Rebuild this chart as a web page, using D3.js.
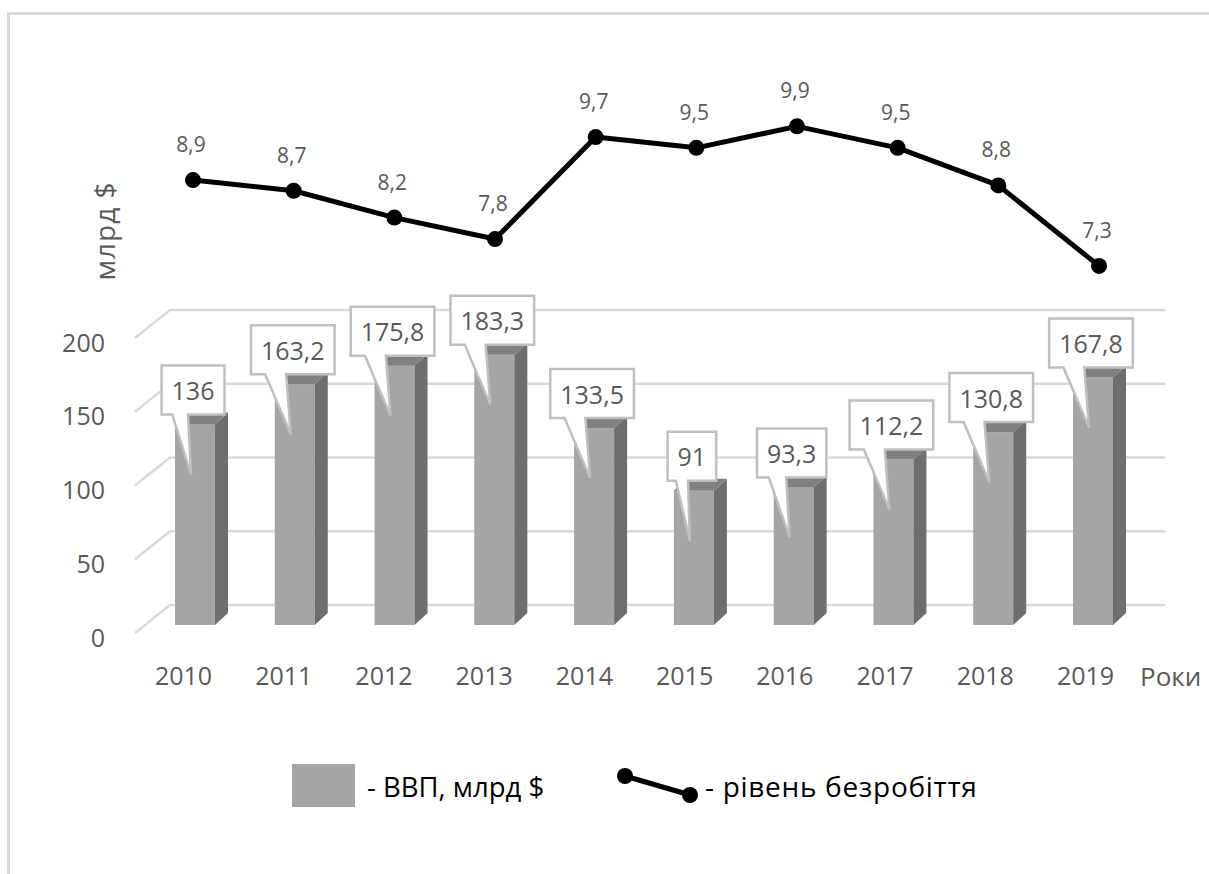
<!DOCTYPE html>
<html>
<head>
<meta charset="utf-8">
<script src="https://d3js.org/d3.v7.min.js"></script>
<style>
  body { margin: 0; background: #fff; }
  svg { display: block; font-family: "Open Sans", sans-serif; }
</style>
</head>
<body>
<div id="chart"></div>
<script>
// chart data
const years = ["2010", "2011", "2012", "2013", "2014", "2015", "2016", "2017", "2018", "2019"];
const gdp = [136, 163.2, 175.8, 183.3, 133.5, 91, 93.3, 112.2, 130.8, 167.8];
const unemployment = [8.9, 8.7, 8.2, 7.8, 9.7, 9.5, 9.9, 9.5, 8.8, 7.3];
const yTicks = [0, 50, 100, 150, 200];

const W = 1209, H = 874;
const textGray = "#595959";
const gridColor = "#d9d9d9";
const comma = v => String(v).replace(".", ",");

const svg = d3.select("#chart").append("svg")
  .attr("width", W)
  .attr("height", H);

// outer frame (only top and left edges are visible)
svg.append("path")
  .attr("d", "M8.5," + (H + 10) + " V13.5 H" + (W + 10))
  .attr("fill", "none")
  .attr("stroke", gridColor)
  .attr("stroke-width", 3);

// scales
const x = d3.scalePoint().domain(years).range([190, 1088]);   // bar centres (perspective plane)
const xa = d3.scalePoint().domain(years).range([183, 1085]);  // category labels
const y = d3.scaleLinear().domain([0, 200]).range([625, 330]); // bar front plane
const xl = d3.scalePoint().domain(years).range([193, 1099]);  // line series
const yl = d3.scaleLinear().domain([7, 10]).range([282, 121]);

const backDy = -20, frontDy = 8;   // gridline back / front planes relative to bar plane
const depthX = 13, depthY = -12;   // bar depth

// gridlines (3D floor/back wall style)
const grid = svg.append("g")
  .attr("fill", "none")
  .attr("stroke", gridColor)
  .attr("stroke-width", 2.5);
grid.selectAll("path")
  .data(yTicks)
  .enter().append("path")
  .attr("d", d => "M135," + (y(d) + frontDy) + " L170," + (y(d) + backDy) + " H1165");

// y axis
const yAxis = svg.append("g")
  .attr("transform", "translate(105,13)")
  .call(d3.axisLeft(y).tickValues(yTicks).tickSize(0).tickPadding(0));
yAxis.select(".domain").remove();
yAxis.selectAll("text")
  .attr("fill", textGray)
  .attr("font-size", 25)
  .attr("font-family", "Open Sans");

// x axis
const xAxis = svg.append("g")
  .attr("transform", "translate(0,667)")
  .call(d3.axisBottom(xa).tickSize(0).tickPadding(0));
xAxis.select(".domain").remove();
xAxis.selectAll("text")
  .attr("fill", textGray)
  .attr("font-size", 25)
  .attr("font-family", "Open Sans");

// bars
const bars = svg.append("g").selectAll("g")
  .data(gdp)
  .enter().append("g");

bars.append("rect")
  .attr("x", (d, i) => x(years[i]) - 15)
  .attr("y", d => y(d))
  .attr("width", 40)
  .attr("height", d => y(0) - y(d))
  .attr("fill", "#a5a5a5");

bars.append("path")
  .attr("fill", "#6e6e6e")
  .attr("d", (d, i) => {
    const r = x(years[i]) + 25;
    return "M" + r + "," + y(d) + " L" + (r + depthX) + "," + (y(d) + depthY) +
      " V" + (y(0) + depthY) + " L" + r + "," + y(0) + "Z";
  });

bars.append("path")
  .attr("fill", "#808080")
  .attr("d", (d, i) => {
    const l = x(years[i]) - 15, r = l + 40;
    return "M" + l + "," + y(d) + " L" + (l + depthX) + "," + (y(d) + depthY) +
      " H" + (r + depthX) + " L" + r + "," + y(d) + "Z";
  });

// callout labels on bars
bars.each(function(d, i) {
  const g = d3.select(this);
  const cx = x(years[i]) + 3;
  const top = y(d);
  const boxBottom = top - 10, boxTop = boxBottom - 49;
  const path = g.append("path");
  const txt = g.append("text")
    .attr("x", cx)
    .attr("y", (boxTop + boxBottom) / 2)
    .attr("text-anchor", "middle")
    .attr("dominant-baseline", "central")
    .attr("font-size", 25)
    .attr("fill", textGray)
    .text(comma(d));
  const w = txt.node().getComputedTextLength() + 20;
  const x0 = cx - w / 2, x1 = cx + w / 2;
  const bl = x0 + 0.17 * w, br = x0 + 0.42 * w;
  path.attr("d", "M" + x0 + "," + boxTop + " H" + x1 + " V" + boxBottom + " H" + br +
      " L" + (cx - 2) + "," + (top + 50) + " L" + bl + "," + boxBottom + " H" + x0 + "Z")
    .attr("fill", "#fff")
    .attr("stroke", "#bfbfbf")
    .attr("stroke-width", 2.5);
});

// unemployment line
const line = d3.line()
  .x((d, i) => xl(years[i]))
  .y(d => yl(d));

svg.append("path")
  .datum(unemployment)
  .attr("d", line)
  .attr("fill", "none")
  .attr("stroke", "#000")
  .attr("stroke-width", 5)
  .attr("stroke-linejoin", "round");

svg.append("g").selectAll("circle")
  .data(unemployment)
  .enter().append("circle")
  .attr("cx", (d, i) => xl(years[i]))
  .attr("cy", d => yl(d))
  .attr("r", 8)
  .attr("fill", "#000");

svg.append("g").selectAll("text")
  .data(unemployment)
  .enter().append("text")
  .attr("x", (d, i) => xl(years[i]) - 2)
  .attr("y", d => yl(d) - 36)
  .attr("text-anchor", "middle")
  .attr("dominant-baseline", "central")
  .attr("font-size", 21)
  .attr("fill", textGray)
  .text(d => comma(d));

// axis titles
svg.append("text")
  .attr("transform", "translate(104,231) rotate(-90)")
  .attr("text-anchor", "middle")
  .attr("dominant-baseline", "central")
  .attr("font-size", 28)
  .attr("letter-spacing", 1)
  .attr("fill", textGray)
  .text("млрд $");

svg.append("text")
  .attr("x", 1140)
  .attr("y", 676)
  .attr("dominant-baseline", "central")
  .attr("font-size", 26)
  .attr("fill", textGray)
  .text("Роки");

// legend
svg.append("rect")
  .attr("x", 292).attr("y", 764)
  .attr("width", 63).attr("height", 43)
  .attr("fill", "#a5a5a5");
svg.append("text")
  .attr("x", 367).attr("y", 786)
  .attr("dominant-baseline", "central")
  .attr("font-size", 27.5)
  .attr("fill", "#000")
  .text("- ВВП, млрд $");

svg.append("line")
  .attr("x1", 625).attr("y1", 776)
  .attr("x2", 690).attr("y2", 795)
  .attr("stroke", "#000")
  .attr("stroke-width", 5);
svg.append("g").selectAll("circle")
  .data([[625, 776], [690, 795]])
  .enter().append("circle")
  .attr("cx", d => d[0]).attr("cy", d => d[1])
  .attr("r", 8)
  .attr("fill", "#000");
svg.append("text")
  .attr("x", 705).attr("y", 786)
  .attr("dominant-baseline", "central")
  .attr("font-size", 28)
  .attr("letter-spacing", 0.7)
  .attr("fill", "#000")
  .text("- рівень безробіття");
</script>
</body>
</html>
